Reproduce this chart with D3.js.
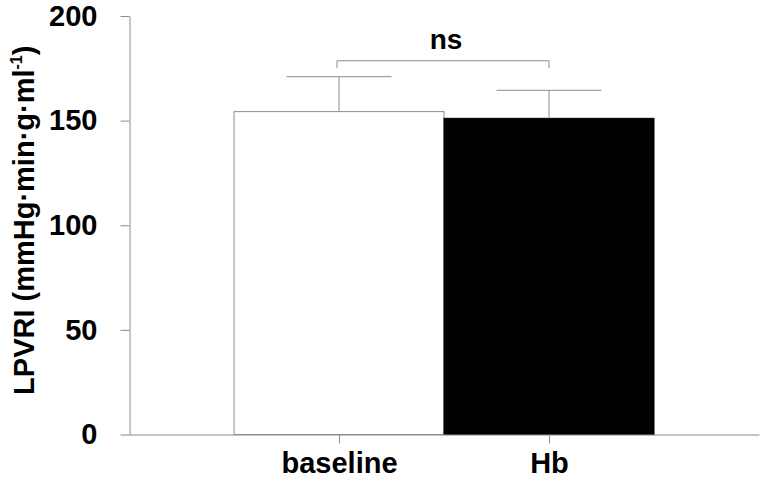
<!DOCTYPE html>
<html>
  <head>
    <meta charset="utf-8">
    <title>LPVRI baseline vs Hb</title>
    <script src="https://d3js.org/d3.v7.min.js"></script>
    <style>
      body { margin: 0; background: #fff; }
      svg { font-family: "Liberation Sans", Arial, sans-serif; font-weight: bold; }
      .axis path, .axis line { stroke: #8c8c8c; stroke-width: 1px; }
      .axis text { font-size: 29px; font-weight: bold; fill: #000; }
    </style>
  </head>
  <body>
    <div id="chart"></div>
    <script>
      // values
      const groups = ["baseline", "Hb"];
      const means = [154.3, 151.1];
      const errors = [16.7, 13.4];
      const fills = ["#ffffff", "#000000"];
      const yTicks = [0, 50, 100, 150, 200];
      const sigLabel = "ns";
      const sigLevel = 178.6;

      const width = 764, height = 480;
      const margin = {left: 129, right: 5, top: 16, bottom: 46};

      const svg = d3.select("#chart").append("svg")
        .attr("width", width)
        .attr("height", height);

      // x: three bands, groups sit on the band boundaries (positions 1 and 2)
      const x = d3.scaleLinear()
        .domain([0, 3])
        .range([margin.left, width - margin.right]);
      const y = d3.scaleLinear()
        .domain([0, 200])
        .range([height - margin.bottom + 0.5, margin.top]);

      const pos = groups.map((g, i) => i + 1);

      // bars
      svg.selectAll(".bar")
        .data(groups)
        .enter().append("rect")
          .attr("class", "bar")
          .attr("x", (d, i) => x(pos[i] - 0.5))
          .attr("width", x(1) - x(0))
          .attr("y", (d, i) => y(means[i]))
          .attr("height", (d, i) => y(0) - y(means[i]))
          .attr("fill", (d, i) => fills[i])
          .attr("stroke", (d, i) => i === 0 ? "#8c8c8c" : "#000")
          .attr("stroke-width", 1);

      // error bars (upper only)
      const eb = svg.selectAll(".err")
        .data(groups)
        .enter().append("g")
          .attr("class", "err")
          .attr("stroke", "#8c8c8c")
          .attr("stroke-width", 1);
      eb.append("line")
        .attr("x1", (d, i) => x(pos[i]))
        .attr("x2", (d, i) => x(pos[i]))
        .attr("y1", (d, i) => y(means[i]))
        .attr("y2", (d, i) => y(means[i] + errors[i]));
      eb.append("line")
        .attr("x1", (d, i) => x(pos[i] - 0.25))
        .attr("x2", (d, i) => x(pos[i] + 0.25))
        .attr("y1", (d, i) => y(means[i] + errors[i]))
        .attr("y2", (d, i) => y(means[i] + errors[i]));

      // significance bracket
      const bx1 = x(pos[0]) - 2, bx2 = x(pos[1]);
      svg.append("path")
        .attr("d", `M${bx1},${y(sigLevel - 3.5)}V${y(sigLevel)}H${bx2}V${y(sigLevel - 3.5)}`)
        .attr("fill", "none")
        .attr("stroke", "#8c8c8c")
        .attr("stroke-width", 1);
      svg.append("text")
        .attr("x", (bx1 + bx2) / 2 + 3)
        .attr("y", y(sigLevel) - 12)
        .attr("text-anchor", "middle")
        .attr("font-size", 28)
        .text(sigLabel);

      // axes
      const yAxis = d3.axisLeft(y)
        .tickValues(yTicks)
        .tickSize(9)
        .tickSizeOuter(0)
        .tickPadding(23);
      svg.append("g")
        .attr("class", "axis")
        .attr("transform", `translate(${margin.left + 0.5},0)`)
        .call(yAxis);

      const xAxis = d3.axisBottom(x)
        .tickValues(pos)
        .tickFormat((d, i) => groups[i])
        .tickSize(9)
        .tickSizeOuter(0)
        .tickPadding(9);
      svg.append("g")
        .attr("class", "axis")
        .attr("transform", `translate(0,${y(0)})`)
        .call(xAxis);

      // y label
      const yl = svg.append("text")
        .attr("transform", `translate(34,${(y(0) + y(200)) / 2 - 5}) rotate(-90)`)
        .attr("text-anchor", "middle")
        .attr("font-size", 29);
      yl.append("tspan").text("LPVRI (mmHg·min·g·ml");
      yl.append("tspan").attr("font-size", 16).attr("dy", -12).text("-1");
      yl.append("tspan").attr("dy", 12).text(")");
    </script>
  </body>
</html>
